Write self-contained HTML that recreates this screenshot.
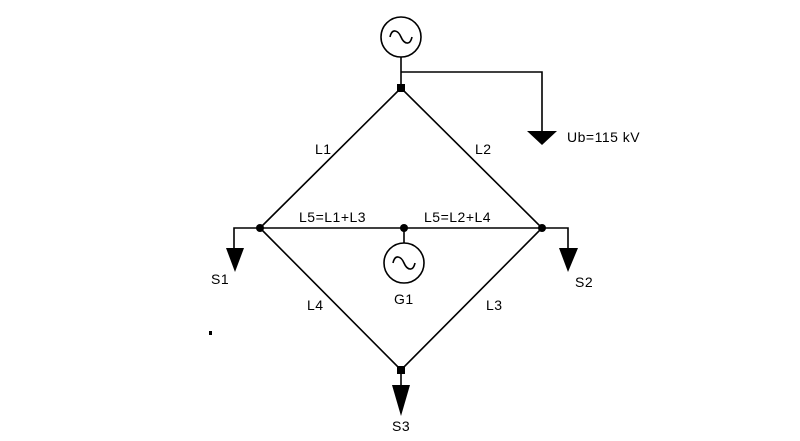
<!DOCTYPE html>
<html><head><meta charset="utf-8"><style>
html,body{margin:0;padding:0;background:#fff;}
svg{display:block;}
text{font-family:"Liberation Sans",Arial,sans-serif;font-size:14px;letter-spacing:0.5px;fill:#000;}
</style></head><body>
<svg width="800" height="441" viewBox="0 0 800 441" xmlns="http://www.w3.org/2000/svg">
<g stroke="#000" stroke-width="1.6" fill="none">
<circle cx="401" cy="37" r="20"/>
<path d="M390 37 C392 28,398 30,401 37 C404 44,410 46,412 37"/>
<line x1="401" y1="57" x2="401" y2="88"/>
<polyline points="401,72 542,72 542,131"/>
<polyline points="260,228 401,88 542,228 401,370 260,228"/>
<line x1="260" y1="228" x2="542" y2="228"/>
<polyline points="260,228 234,228 234,248"/>
<polyline points="542,228 568,228 568,248"/>
<line x1="404" y1="228" x2="404" y2="243"/>
<circle cx="404" cy="263" r="20"/>
<path d="M393 263 C395 254,401 256,404 263 C407 270,413 272,415 263"/>
<line x1="401" y1="370" x2="401" y2="385"/>
</g>
<g fill="#000">
<polygon points="527,131 557,131 542,145"/>
<polygon points="226,248 244,248 235,272"/>
<polygon points="559,248 578,248 568,272"/>
<polygon points="392,385 410,385 401,416"/>
<rect x="397" y="84" width="8" height="8"/>
<rect x="397" y="366" width="8" height="8"/>
<circle cx="260" cy="228" r="4"/>
<circle cx="542" cy="228" r="4"/>
<circle cx="404" cy="228" r="4"/>
<rect x="209" y="331" width="3" height="4"/>
</g>
<text x="567" y="142">Ub=115 kV</text>
<text x="315" y="154">L1</text>
<text x="475" y="154">L2</text>
<text x="299" y="222">L5=L1+L3</text>
<text x="424" y="222">L5=L2+L4</text>
<text x="211" y="284">S1</text>
<text x="575" y="287">S2</text>
<text x="394" y="304">G1</text>
<text x="307" y="310">L4</text>
<text x="486" y="310">L3</text>
<text x="392" y="431">S3</text>
</svg>
</body></html>
